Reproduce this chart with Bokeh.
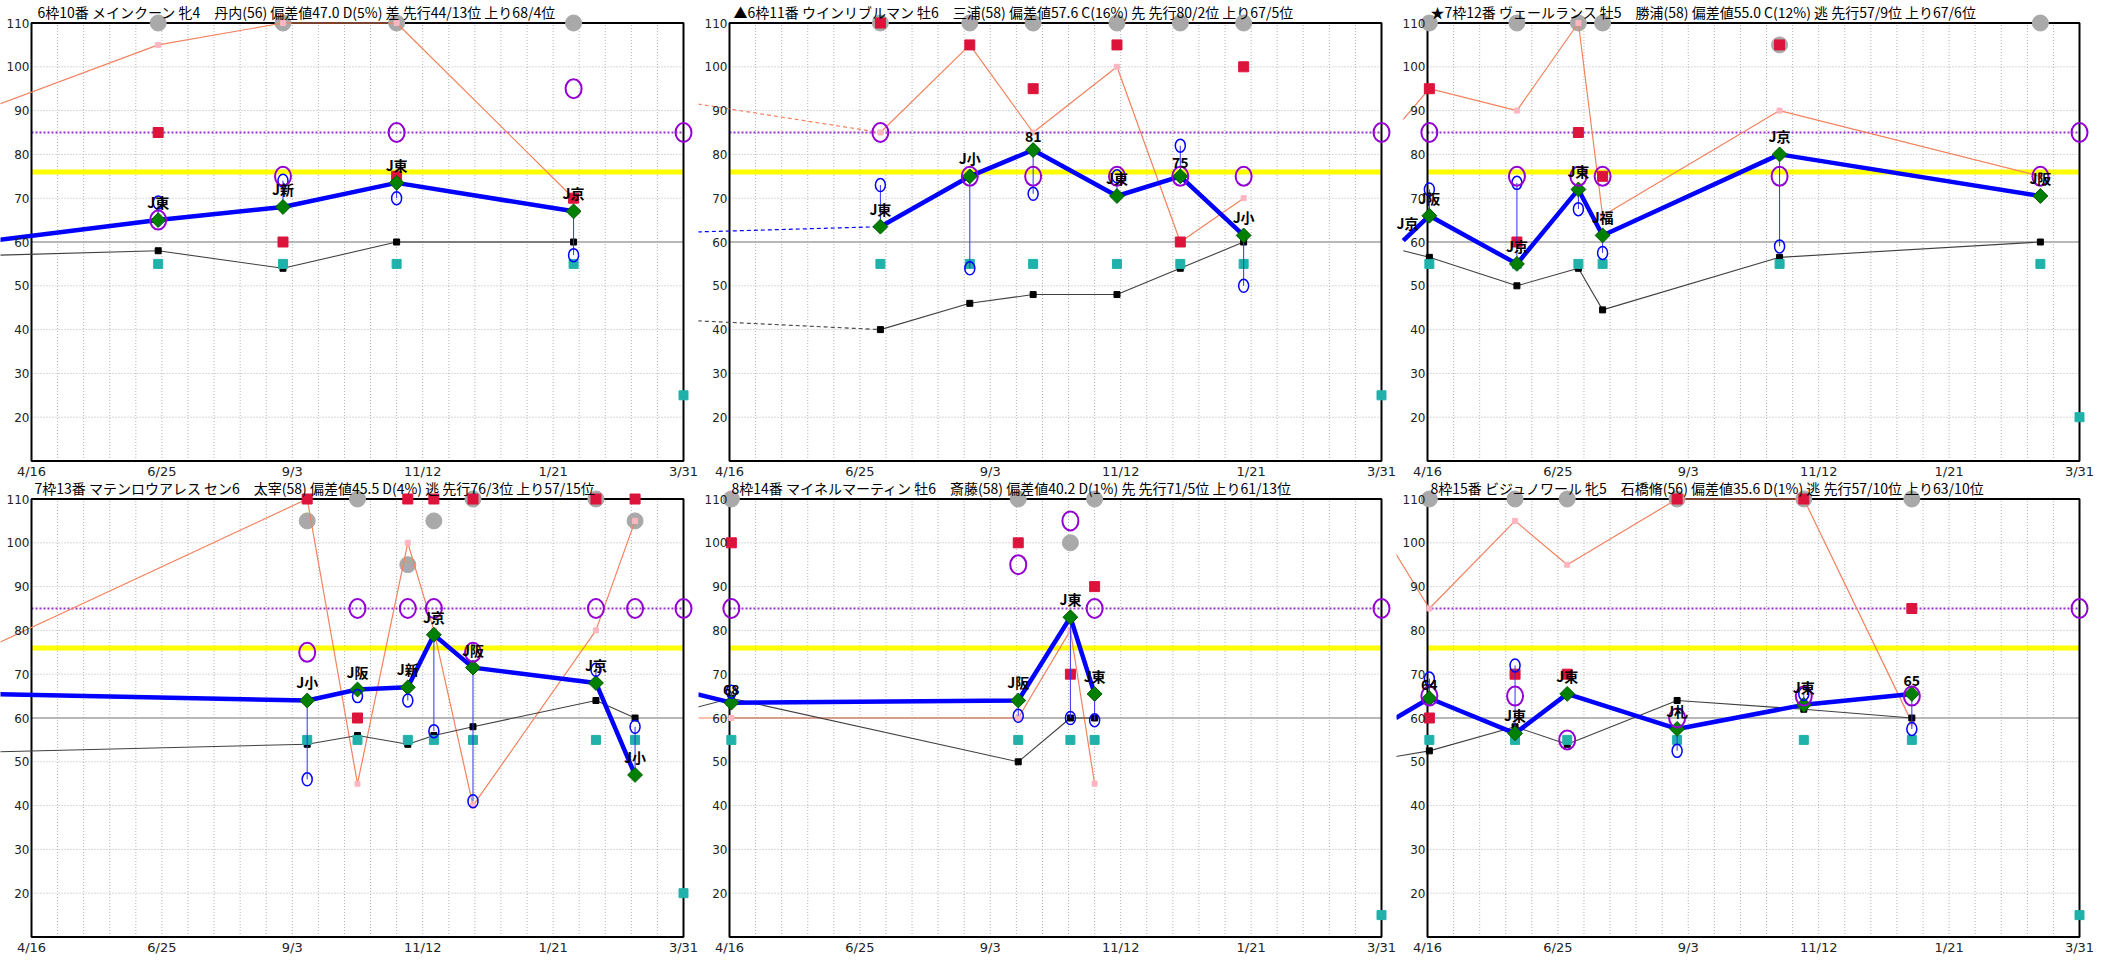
import math
import pandas as pd
from bokeh.plotting import figure
from bokeh.layouts import column, row
from bokeh.models import Range1d
from bokeh.core.properties import value
from bokeh.embed import file_html
from bokeh.resources import INLINE

# ---------------- shared axis data ----------------
axis_start = "2023-04-16"
axis_end = "2024-03-31"
x_tick_dates = ["2023-04-16", "2023-06-25", "2023-09-03", "2023-11-12", "2024-01-21", "2024-03-31"]
x_tick_labels = ["4/16", "6/25", "9/3", "11/12", "1/21", "3/31"]
y_ticks = [20, 30, 40, 50, 60, 70, 80, 90, 100, 110]
y_min, y_max = 10, 110
grid_days = 14
ref_yellow = 76
ref_purple = 85
ref_gray = 60

# ---------------- panel A ----------------
a_title = "6枠10番 メインクーン 牝4　丹内(56) 偏差値47.0 D(5%) 差 先行44/13位 上り68/4位"
a_dates = ["2023-06-23", "2023-08-29", "2023-10-29", "2024-02-01"]
a_blue = [65, 68, 73.5, 67]
a_label = ["J東", "J新", "J東", "J京"]
a_black = [58, 54, 60, 60]
a_salmon = [105, 110, 110, 70]
a_red = [85, 60, 75, 70]
a_teal = [55, 55, 55, 55]
a_ring = [69, 74, 70, 57]
a_purple = [65, 75, 85, 95]
a_gray = [110, 110, 110, 110]
a_prev = ["2023-03-30", 60.5, 57, 91.5]      # earlier race: date, blue, black, salmon
a_now = [85, 25]                              # purple, teal on 3/31

# ---------------- panel B ----------------
b_title = "▲6枠11番 ウインリブルマン 牡6　三浦(58) 偏差値57.6 C(16%) 先 先行80/2位 上り67/5位"
b_dates = ["2023-07-06", "2023-08-23", "2023-09-26", "2023-11-10", "2023-12-14", "2024-01-17"]
b_blue = [63.5, 75, 81, 70.5, 75, 61.5]
b_label = ["J東", "J小", "81", "J東", "75", "J小"]
b_black = [40, 46, 48, 48, 54, 60]
b_salmon = [85, 105, 85, 100, 60, 70]
b_red = [110, 105, 95, 105, 60, 100]
b_teal = [55, 55, 55, 55, 55, 55]
b_ring = [73, 54, 71, 75, 82, 50]
b_purple = [85, 75, 75, 75, 75, 75]
b_gray = [110, 110, 110, 110, 110, 110]
b_prev = ["2023-03-30", 62.3, 42, 91.5]
b_now = [85, 25]

# ---------------- panel C ----------------
c_title = "★7枠12番 ヴェールランス 牡5　勝浦(58) 偏差値55.0 C(12%) 逃 先行57/9位 上り67/6位"
c_dates = ["2023-04-17", "2023-06-03", "2023-07-06", "2023-07-19", "2023-10-22", "2024-03-10"]
c_blue = [66, 55, 72, 61.5, 80, 70.5]
c_label = ["J阪", "J京", "J東", "J福", "J京", "J阪"]
c_black = [56.5, 50, 54, 44.5, 56.5, 60]
c_salmon = [95, 90, 110, 66, 90, 75]
c_red = [95, 60, 85, 75, 105, None]
c_teal = [55, 55, 55, 55, 55, 55]
c_ring = [72, 73.5, 67.5, 57.5, 59, None]
c_purple = [85, 75, 75, 75, 75, 75]
c_gray = [110, 110, 110, 110, 105, 110]
c_prev = ["2023-04-03", 60.3, 58, 88]
c_now = [85, 20]

# ---------------- panel D ----------------
d_title = "7枠13番 マテンロウアレス セン6　太宰(58) 偏差値45.5 D(4%) 逃 先行76/3位 上り57/15位"
d_dates = ["2023-09-11", "2023-10-08", "2023-11-04", "2023-11-18", "2023-12-09", "2024-02-13", "2024-03-05"]
d_blue = [64, 66.5, 67, 79, 71.5, 68, 47]
d_label = ["J小", "J阪", "J新", "J京", "J阪", "J京", "J小"]
d_black = [54, 56, 54, 56, 58, 64, 60]
d_salmon = [110, 45, 100, 80, 40, 80, 105]
d_red = [110, 60, 110, 110, 110, 110, 110]
d_teal = [55, 55, 55, 55, 55, 55, 55]
d_ring = [46, 65, 64, 57, 41, 71, 58]
d_purple = [75, 85, 85, 85, 75, 85, 85]
d_gray = [105, 110, 95, 105, 110, 110, 105]
d_prev = ["2023-03-30", 65.4, 52.3, 77.3]
d_now = [85, 20]

# ---------------- panel E ----------------
e_title = "8枠14番 マイネルマーティン 牡6　斎藤(58) 偏差値40.2 D(1%) 先 先行71/5位 上り61/13位"
e_dates = ["2023-04-17", "2023-09-18", "2023-10-16", "2023-10-29"]
e_blue = [63.5, 64, 83, 65.5]
e_label = ["68", "J阪", "J東", "J東"]
e_black = [64.5, 50, 60, 60]
e_salmon = [60, 60, 80, 45]
e_red = [100, 100, 70, 90]
e_teal = [55, 55, 55, 55]
e_ring = [66, 60.5, 60, 59.5]
e_purple = [85, 95, 105, 85]
e_gray = [110, 110, 100, 110]
e_prev = ["2023-03-30", 65.4, 62.5, 60]
e_now = [85, 15]

# ---------------- panel F ----------------
f_title = "8枠15番 ビジュノワール 牝5　石橋脩(56) 偏差値35.6 D(1%) 逃 先行57/10位 上り63/10位"
f_dates = ["2023-04-17", "2023-06-02", "2023-06-30", "2023-08-28", "2023-11-04", "2024-01-01"]
f_blue = [64.5, 56.5, 65.5, 57.5, 63, 65.5]
f_label = ["64", "J東", "J東", "J札", "J東", "65"]
f_black = [52.5, 58, 54, 64, 62, 60]
f_salmon = [85, 105, 95, 110, 110, 59]
f_red = [60, 70, 70, 110, 110, 85]
f_teal = [55, 55, 55, 55, 55, 55]
f_ring = [69, 72, None, 52.5, 65.5, 57.5]
f_purple = [65, 65, 55, 60, 65, 65]
f_gray = [110, 110, 110, 110, 110, 110]
f_prev = ["2023-03-30", 60.0, 51.2, 97.5]
f_now = [85, 15]

# ---------------- layout / style ----------------
FIG_W = 698
ROW_H = [478, 483]
ROW_T = [22.5, 20.5]  # px from figure top to the 110 edge, per row
BOX_L = 31            # px from figure left to the 4/16 edge
BOX_W = 652           # px width of the framed box
BOX_H = 438           # px height of the framed box

JP = value("Noto Sans CJK JP")
NUM = value("DejaVu Sans")
SALMON = "#f4825f"
BLUE = "#0000ff"
GRID = "#b4b4b4"
T0 = pd.Timestamp(axis_start)
SPAN = (pd.Timestamp(axis_end) - T0).days


def days(dates):
    return [(pd.Timestamp(d) - T0).days for d in dates]


def keep(xs, ys, base=None):
    out = [(x, y, b) for x, y, b in zip(xs, ys, base or ys) if y is not None]
    return [o[0] for o in out], [o[1] for o in out], [o[2] for o in out]


def panel(title, dates, blue, labels, black, salmon, red, teal, ring, purple, gray,
          prev, now, r, title_dx, prev_dashed=False, prev_label=None):
    height, box_t = ROW_H[r], ROW_T[r]
    ppd = BOX_W / SPAN
    ppu = BOX_H / (y_max - y_min)
    x_lo = -BOX_L / ppd
    p = figure(width=FIG_W, height=height, output_backend="svg", toolbar_location=None,
               x_range=Range1d(x_lo, SPAN + (FIG_W - BOX_L - BOX_W) / ppd),
               y_range=Range1d(y_max - (height - box_t) / ppu, y_max + box_t / ppu),
               x_axis_type=None, y_axis_type=None, min_border=0,
               outline_line_color=None, background_fill_color="white",
               border_fill_color="white")

    # grid
    vx = list(range(0, SPAN + 1, grid_days))
    p.segment(x0=vx, y0=[y_min] * len(vx), x1=vx, y1=[y_max] * len(vx),
              line_color=GRID, line_width=1, line_dash="1 2")
    hy = [v for v in y_ticks[:-1] if v != ref_gray]
    p.segment(x0=[0] * len(hy), y0=hy, x1=[SPAN] * len(hy), y1=hy,
              line_color=GRID, line_width=1, line_dash="1 2")
    p.segment(x0=[0], y0=[ref_gray], x1=[SPAN], y1=[ref_gray], line_color="#a0a0a0", line_width=1.5)
    p.segment(x0=[0], y0=[ref_yellow], x1=[SPAN], y1=[ref_yellow], line_color="#ffff00", line_width=5)
    p.segment(x0=[0], y0=[ref_purple], x1=[SPAN], y1=[ref_purple], line_color="#9932cc",
              line_width=2, line_dash="2 2")
    p.quad(left=[0], right=[SPAN], bottom=[y_min], top=[y_max], fill_color=None,
           line_color="black", line_width=2)

    x = days(dates)
    px = days([prev[0]])[0]
    dash = "4 3" if prev_dashed else "solid"

    # gray capped markers
    gx, gy, _ = keep(x, gray)
    p.scatter(gx, gy, marker="circle", size=16, fill_color="#a9a9a9", line_color="#a9a9a9")

    # salmon series
    p.line([px, x[0]], [prev[3], salmon[0]], line_color=SALMON, line_width=1.2, line_dash=dash)
    p.line(x, salmon, line_color=SALMON, line_width=1.2)
    p.scatter(x, salmon, marker="square", size=5, fill_color="#ffb6c1", line_color="#ffb6c1")

    # black series
    p.line([px, x[0]], [prev[2], black[0]], line_color="#404040", line_width=1.1, line_dash=dash)
    p.line(x, black, line_color="#404040", line_width=1.1)
    p.scatter(x, black, marker="square", size=6, fill_color="black", line_color="black")

    # teal & red squares
    tx, ty, _ = keep(x, teal)
    p.scatter(tx, ty, marker="square", size=9, fill_color="#20b2aa", line_color="#20b2aa")
    rx, ry, _ = keep(x, red)
    p.scatter(rx, ry, marker="square", size=10, fill_color="#dc143c", line_color="#dc143c")

    # blue rings with connectors
    cx, cy, cb = keep(x, ring, blue)
    p.segment(x0=cx, y0=cb, x1=cx, y1=cy, line_color="#3030ff", line_width=1)

    # main blue index line
    if prev_dashed:
        p.line([px, x[0]], [prev[1], blue[0]], line_color=BLUE, line_width=1.2, line_dash=dash)
    else:
        p.line([px, x[0]], [prev[1], blue[0]], line_color=BLUE, line_width=4.5)
    p.line(x, blue, line_color=BLUE, line_width=4.5)
    p.scatter(x, blue, marker="square", angle=math.pi / 4, size=10.5,
              fill_color="#008000", line_color="#005a00")
    p.ellipse(cx, cy, width=10, height=13, width_units="screen", height_units="screen",
              fill_color=None, line_color=BLUE, line_width=1.5)

    # purple rings
    qx, qy, _ = keep(x, purple)
    p.ellipse(qx + [SPAN], qy + [now[0]], width=16, height=19, width_units="screen",
              height_units="screen", fill_color=None, line_color="#9400d3", line_width=2)
    p.scatter([SPAN], [now[1]], marker="square", size=9, fill_color="#20b2aa", line_color="#20b2aa")

    # labels above diamonds
    p.text(x, blue, text=labels, text_font=JP, text_font_size="14px", text_font_style="bold",
           text_align="center", text_baseline="bottom", y_offset=-8, text_color="black")
    if prev_label:
        # earlier race sits just off the left edge: keep its label inside the panel
        p.text([x_lo], [prev[1]], text=[prev_label], text_font=JP, text_font_size="14px",
               text_font_style="bold", text_align="left", text_baseline="bottom",
               y_offset=-8, text_color="black")

    # tick labels
    p.text([0] * len(y_ticks), y_ticks, text=[str(v) for v in y_ticks], text_font=NUM,
           text_font_size="12px", text_align="right", text_baseline="middle",
           x_offset=-2, text_color="#222222")
    p.text(days(x_tick_dates), [y_min] * len(x_tick_dates), text=x_tick_labels, text_font=NUM,
           text_font_size="13px", text_align="center", text_baseline="top",
           y_offset=3, text_color="#222222")
    # title
    p.text([0], [y_max], text=[title], text_font=JP, text_font_size="14px",
           text_align="left", text_baseline="middle", x_offset=title_dx, y_offset=-11,
           text_color="black")
    return p


pa = panel(a_title, a_dates, a_blue, a_label, a_black, a_salmon, a_red, a_teal, a_ring,
           a_purple, a_gray, a_prev, a_now, 0, 6)
pb = panel(b_title, b_dates, b_blue, b_label, b_black, b_salmon, b_red, b_teal, b_ring,
           b_purple, b_gray, b_prev, b_now, 0, 4, prev_dashed=True)
pc = panel(c_title, c_dates, c_blue, c_label, c_black, c_salmon, c_red, c_teal, c_ring,
           c_purple, c_gray, c_prev, c_now, 0, 3, prev_label="J京")
pd_ = panel(d_title, d_dates, d_blue, d_label, d_black, d_salmon, d_red, d_teal, d_ring,
            d_purple, d_gray, d_prev, d_now, 1, 3)
pe = panel(e_title, e_dates, e_blue, e_label, e_black, e_salmon, e_red, e_teal, e_ring,
           e_purple, e_gray, e_prev, e_now, 1, 2)
pf = panel(f_title, f_dates, f_blue, f_label, f_black, f_salmon, f_red, f_teal, f_ring,
           f_purple, f_gray, f_prev, f_now, 1, 3)

layout = column(row(pa, pb, pc), row(pd_, pe, pf))
open("out.html", "w").write(file_html(layout, INLINE))
